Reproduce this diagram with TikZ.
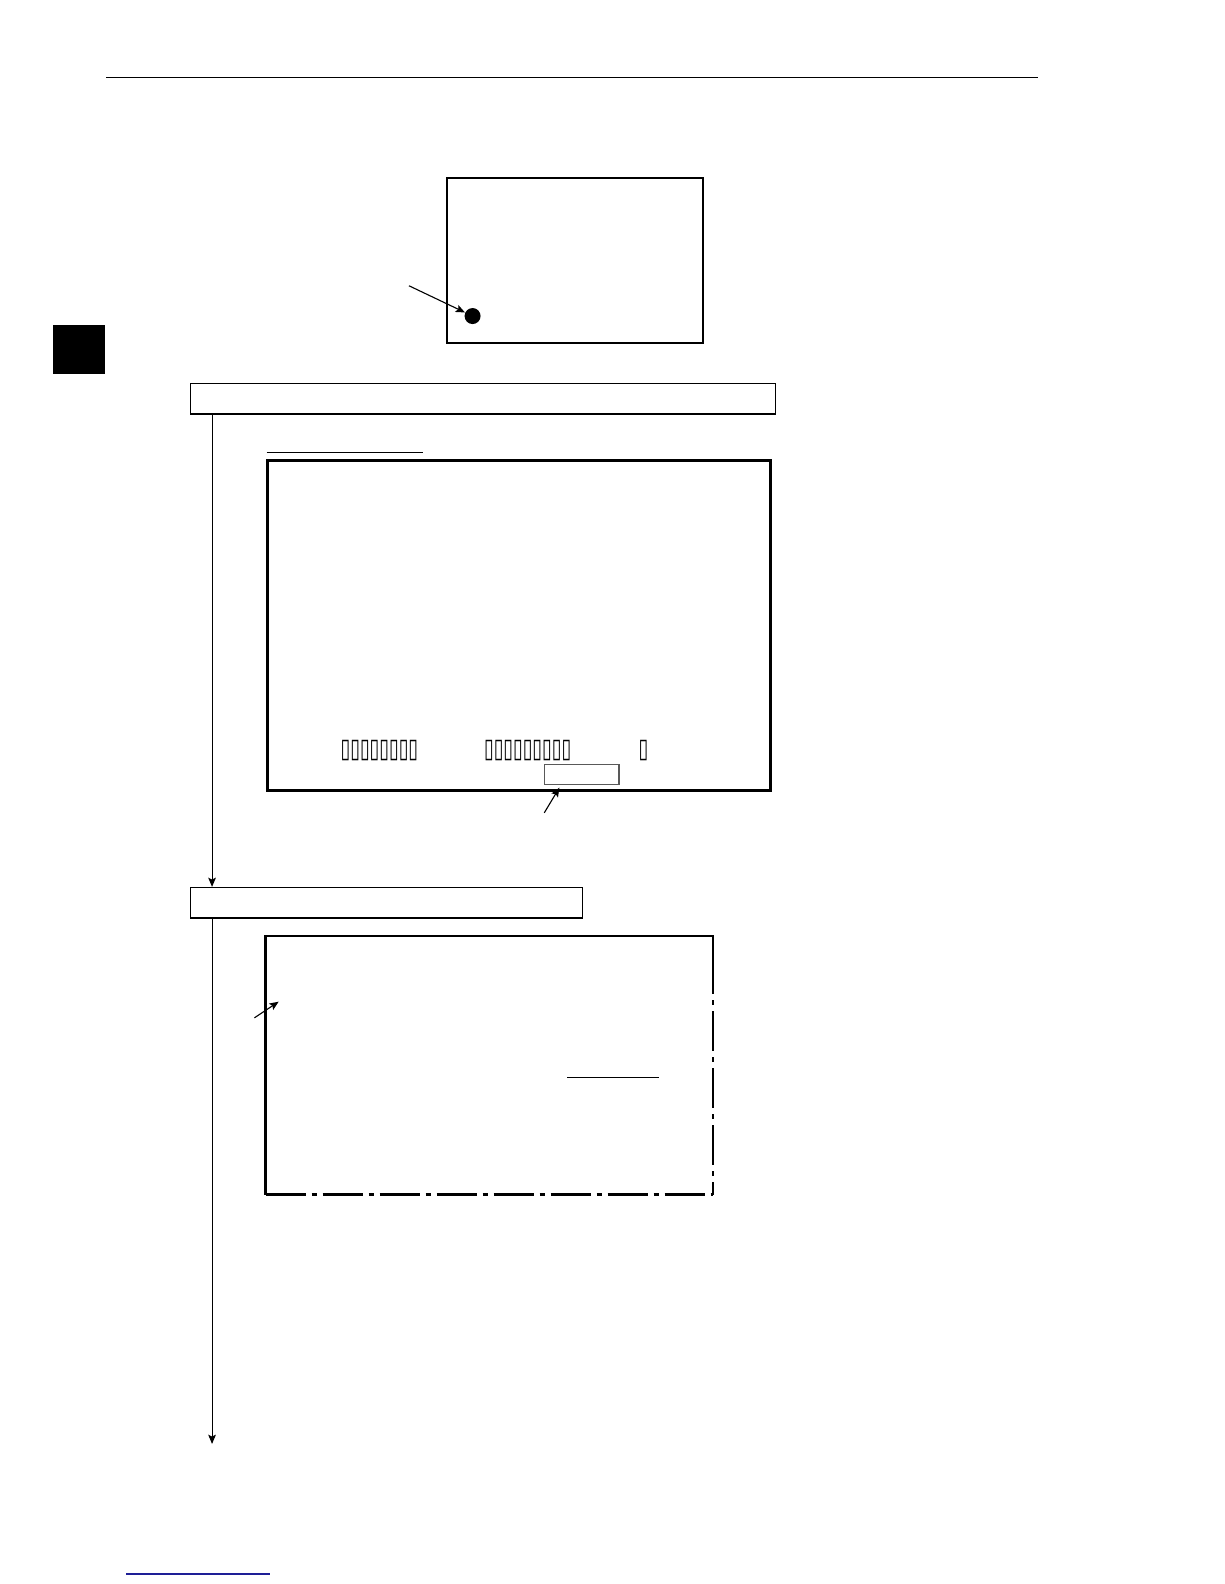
\documentclass[tikz,border=0pt]{standalone}
\usepackage{fontspec}
\newfontfamily\symfont{DejaVu Sans}
\usetikzlibrary{arrows.meta}
\begin{document}
\begin{tikzpicture}[x=0.5049pt,y=-0.5049pt,
  thick box/.style={draw,line width=1.15pt},
  flow box/.style={draw,line width=0.6pt},
  arr/.style={-{Stealth[length=4.6pt,width=3.8pt,inset=0.9pt]},line width=0.55pt},
  dashdot border/.style={line width=1.15pt,dash pattern=on 20pt off 3pt on 2.5pt off 3pt},
  tofu/.style={inner sep=0pt,font=\symfont\bfseries\fontsize{11}{11}\selectfont}]
\useasboundingbox (0,0) rectangle (1212.2,1568.7);
% header rule and side tab
\draw[line width=0.6pt] (105,77) -- (1028,77);
\fill (52,322) rectangle (104,370);
% top screen
\draw[thick box] (443,176) rectangle (696,340);
\node[circle,fill,inner sep=0pt,minimum size=8pt] (dot) at (468,313) {};
\coordinate (dotfrom) at (405,283);
\draw[arr] (dotfrom) -- (dot);
% step 1
\node[flow box,minimum width=292.3pt,minimum height=15.2pt,inner sep=0pt] (s1) at (478.5,395) {};
\draw[line width=0.6pt] (264,448) -- (419,448);
\draw[thick box] (265,456) rectangle (763,783);
\node[tofu,anchor=west] (t1) at (337,743) {\scalebox{0.8}[1.22]{▯▯▯▯▯▯▯▯}};
\node[tofu,anchor=west] (t2) at (479,743) {\scalebox{0.8}[1.22]{▯▯▯▯▯▯▯▯▯}};
\node[tofu,anchor=west] (t3) at (632,743) {\scalebox{0.8}[1.22]{▯}};
\node[draw=gray!70!black,line width=0.6pt,minimum width=37.3pt,minimum height=10pt,inner sep=0pt] (sb) at (576,767) {};
\coordinate (sbfrom) at (539,805);
\coordinate (sbto) at (554,780);
\draw[arr] (sbfrom) -- (sbto);
% step 2
\node[flow box,minimum width=195.9pt,minimum height=15.2pt,inner sep=0pt] (s2) at (383,894) {};
\coordinate (flowx) at (210,0);
\draw[arr] (s1.south -| flowx) -- (s2.north -| flowx);
% screen 3
\draw[line width=1.15pt] (263,1183) -- (263,927) -- (706,927) -- (706,945);
\draw[dashdot border] (706,945) -- (706,1183);
\draw[dashdot border] (263,1183) -- (706,1183);
\coordinate (a3from) at (252,1008);
\coordinate (a3to) at (276,992);
\draw[arr] (a3from) -- (a3to);
\draw[line width=0.6pt] (562,1067) -- (653,1067);
\coordinate (endflow) at (210,1430);
\draw[arr] (s2.south -| flowx) -- (endflow);
% footer link line
\draw[line width=0.8pt,color={rgb,255:red,30;green,30;blue,150}] (125,1559) -- (267,1559);
\end{tikzpicture}
\end{document}
